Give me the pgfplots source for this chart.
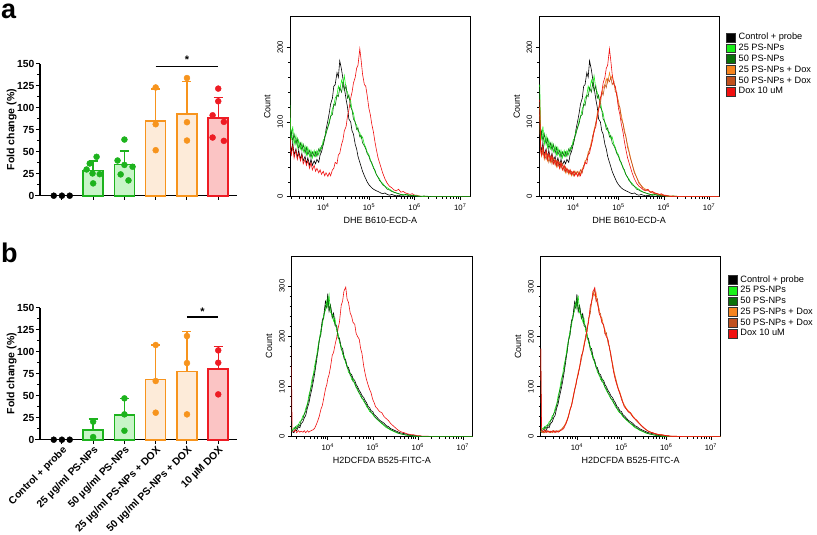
\documentclass[border=0pt]{standalone}
\usepackage{fontspec}
\setmainfont{Liberation Sans}
\usepackage{pgfplots}
\usepackage{pgfplotstable}
\pgfplotsset{compat=1.18}

% bar chart colours
\definecolor{grEdge}{HTML}{1DB31D}
\definecolor{grFill}{HTML}{C8F5C8}
\definecolor{orEdge}{HTML}{F7941D}
\definecolor{orFill}{HTML}{FDEBD9}
\definecolor{rdEdge}{HTML}{EE1C24}
\definecolor{rdFill}{HTML}{FBC4C4}
% histogram colours
\definecolor{hGreen}{HTML}{1AF01A}
\definecolor{hDkGreen}{HTML}{0A700A}
\definecolor{hOrange}{HTML}{F7841E}
\definecolor{hBrown}{HTML}{C0501E}
\definecolor{hRed}{HTML}{F01010}

% DHE histograms, x = log10 of intensity
\pgfplotstableread{
x    ctrl p25 p50 d25 d50 dox
3.26 75 150 95 120 110 130
3.28 70 88 80 60 64 62
3.30 60 78 88 54 62 56
3.33 72 94 74 64 56 68
3.36 56 70 84 50 58 52
3.40 64 82 70 60 50 62
3.43 52 66 78 48 56 50
3.46 62 76 64 56 46 58
3.50 50 64 72 46 54 48
3.53 58 72 62 54 44 56
3.56 48 60 70 44 52 44
3.60 54 68 58 50 42 50
3.63 44 56 66 40 48 42
3.66 52 66 56 48 40 48
3.70 42 54 62 38 46 38
3.73 50 62 52 46 38 46
3.76 42 52 60 36 44 36
3.80 48 62 54 42 34 42
3.83 44 54 60 32 40 34
3.86 50 62 54 38 32 38
3.90 46 56 64 30 36 32
3.93 56 66 60 36 30 36
3.96 60 64 68 28 34 30
4.00 70 76 70 34 28 34
4.03 78 78 80 28 34 28
4.06 90 88 84 34 30 32
4.10 102 92 94 28 34 27
4.13 112 102 98 34 28 32
4.16 124 106 108 30 36 28
4.20 132 118 110 38 32 36
4.23 148 122 124 40 42 38
4.26 150 132 122 48 44 46
4.30 166 136 136 50 52 44
4.33 160 148 134 60 56 56
4.36 182 142 146 62 64 58
4.40 170 156 140 74 68 70
4.43 158 150 152 80 82 76
4.46 146 162 142 90 86 88
4.50 130 144 148 98 100 94
4.53 120 140 132 112 106 108
4.56 104 132 136 118 118 116
4.60 100 128 120 132 124 132
4.63 88 116 116 136 140 140
4.66 84 112 104 146 136 152
4.70 70 98 100 150 150 160
4.73 64 96 90 158 146 172
4.76 54 88 92 152 158 176
4.80 46 86 80 166 154 198
4.83 40 78 82 158 160 182
4.86 34 80 72 162 150 164
4.90 28 70 68 150 154 150
4.93 24 66 64 146 140 148
4.96 20 60 58 136 140 136
5.00 16 56 54 128 122 118
5.03 14 50 48 118 120 110
5.06 12 44 46 110 104 98
5.10 10 40 38 98 98 86
5.13 9 34 36 90 86 74
5.16 8 30 30 80 82 64
5.20 7 26 26 70 66 52
5.23 6 24 22 62 60 46
5.26 5 20 20 54 52 40
5.30 4 18 16 44 44 32
5.35 5 14 14 34 32 24
5.40 3 12 10 26 26 18
5.45 2 10 9 20 18 14
5.50 3 8 7 15 15 12
5.55 2 6 6 12 10 9
5.60 1 5 5 10 9 8
5.65 2 4 4 8 9 10
5.70 1 3 3 7 6 6
5.75 1 3 2 6 5 7
5.80 0 2 3 5 4 5
5.85 1 3 2 4 4 4
5.90 0 2 1 3 3 3
5.95 1 1 2 3 2 4
6.00 0 2 1 2 2 2
6.05 0 1 1 1 1 2
6.10 0 1 0 1 1 1
6.20 0 0 1 1 0 0
6.40 0 0 0 0 0 0
7.22 0 0 0 0 0 0
}\tabA

% H2DCFDA histograms, x = log10 of intensity
\pgfplotstableread{
x    ctrl p25 p50 d25 d50 dox
3.19 8 10 12 10 176 176
3.21 10 14 12 10 12 12
3.25 8 18 14 8 10 10
3.28 14 16 20 12 8 14
3.31 12 22 16 9 12 8
3.35 20 24 24 12 9 12
3.38 18 30 22 8 11 9
3.41 26 32 32 11 8 11
3.45 30 42 36 8 12 9
3.48 38 44 46 12 9 12
3.51 42 56 50 9 12 8
3.55 58 66 64 12 9 12
3.58 66 82 74 9 12 9
3.61 80 92 90 13 10 11
3.65 96 114 104 14 15 13
3.68 110 124 122 18 16 14
3.71 126 142 130 20 21 17
3.75 150 158 158 28 25 25
3.78 170 178 168 34 32 32
3.81 190 192 192 42 40 40
3.85 212 212 204 56 54 55
3.88 232 222 230 64 62 62
3.91 240 242 236 78 74 76
3.95 270 252 262 94 92 95
3.98 262 270 256 108 104 104
4.00 285 260 280 116 114 115
4.03 250 282 252 130 126 124
4.06 262 248 262 140 138 138
4.10 240 244 236 160 154 162
4.13 246 230 242 170 168 168
4.16 226 236 222 186 180 182
4.20 220 210 218 200 204 198
4.23 200 206 196 218 210 216
4.26 196 188 194 232 236 228
4.30 178 180 174 256 246 262
4.33 176 164 170 266 272 270
4.36 160 162 156 290 280 290
4.40 152 146 150 282 296 298
4.43 140 142 138 288 270 274
4.46 138 128 134 264 276 268
4.50 126 126 122 256 248 246
4.53 124 114 120 240 246 240
4.56 116 116 110 238 230 228
4.60 112 104 108 220 222 224
4.63 104 100 98 214 206 206
4.66 100 92 96 204 208 200
4.70 92 88 86 190 186 194
4.73 88 80 84 178 180 176
4.76 82 78 76 164 160 166
4.80 78 70 74 146 144 140
4.83 72 68 66 132 128 126
4.86 68 60 64 120 118 114
4.90 60 56 56 106 104 102
4.93 58 50 54 96 94 94
4.96 52 50 48 90 86 88
5.00 50 44 46 78 78 74
5.03 44 40 42 70 68 68
5.06 42 38 38 64 62 60
5.10 38 34 35 58 56 56
5.15 33 30 31 52 50 50
5.20 30 26 27 48 46 48
5.25 27 22 24 42 40 40
5.30 22 18 20 36 35 36
5.35 20 16 17 32 30 32
5.40 16 13 14 27 26 26
5.45 14 11 12 22 21 22
5.50 12 9 10 18 17 18
5.55 10 7 8 14 14 14
5.60 8 6 6 11 11 11
5.65 7 5 5 9 9 9
5.70 6 4 4 8 7 8
5.75 5 3 3 6 6 6
5.80 4 2 3 5 5 5
5.85 3 2 2 4 4 4
5.90 2 1 1 4 3 4
5.95 2 1 1 3 3 3
6.00 1 1 0 2 2 2
6.05 1 0 1 2 1 2
6.10 0 0 0 1 1 1
6.20 0 0 0 1 0 1
6.40 0 0 0 0 0 0
7.21 0 0 0 0 0 0
}\tabB

\pgfplotsset{
  /pgf/number format/assume math mode=true,
  barax/.style={scale only axis, width=197pt, height=132pt,
    xmin=-0.7, xmax=5.6, ymin=0, ymax=150,
    axis lines*=left, axis line style={line width=1.1pt},
    ytick={0,25,...,150}, minor y tick num=1, xtick={0,...,5},
    tick align=outside, major tick length=4pt, minor tick length=2.5pt,
    tick style={black, line width=1pt},
    tick label style={font=\fontsize{10.3}{11}\selectfont\bfseries},
    yticklabel style={inner sep=1.5pt},
    ylabel={Fold change (\%)},
    ylabel style={font=\fontsize{10.5}{11}\selectfont\bfseries,
      at={(axis description cs:-0.144,0.5)}, anchor=center},
    clip=false},
  bar/.style 2 args={ybar, bar shift=0pt, bar width=20pt, line width=1.6pt,
    draw=#1, fill=#2,
    error bars/y dir=plus, error bars/y explicit,
    error bars/error bar style={line width=1.4pt, draw=#1},
    error bars/error mark options={rotate=90, mark size=4.5pt, line width=1.4pt, draw=#1}},
  dots/.style={only marks, mark=*, mark size=3pt, color=#1},
  histax/.style={scale only axis, ymin=0, tick pos=left, tick align=outside,
    xtick={4,5,6,7},
    xticklabels={10\textsuperscript{4},10\textsuperscript{5},10\textsuperscript{6},10\textsuperscript{7}},
    minor xtick={3.301,3.477,3.602,3.699,3.778,3.845,3.903,3.954,
      4.301,4.477,4.602,4.699,4.778,4.845,4.903,4.954,
      5.301,5.477,5.602,5.699,5.778,5.845,5.903,5.954,
      6.301,6.477,6.602,6.699,6.778,6.845,6.903,6.954},
    minor y tick num=4, yticklabel style={rotate=90},
    tick label style={font=\fontsize{7.8}{8}\selectfont},
    label style={font=\fontsize{9}{10}\selectfont},
    ylabel={Count},
    axis line style={line width=0.6pt},
    tick style={black, line width=0.5pt},
    major tick length=3.5pt, minor tick length=2pt,
    every axis plot/.append style={line width=0.6pt, forget plot}},
  sqleg/.style={
    legend image code/.code={\draw[##1, draw=black!80, line width=0.3pt] (0pt,-4.4pt) rectangle (9pt,4.4pt);},
    legend style={draw=none, fill=none, anchor=north west, inner sep=0pt,
      font=\fontsize{9.2}{10}\selectfont, row sep=1.7pt, column sep=2.5pt,
      nodes={inner sep=0.5pt}},
    legend cell align=left},
}

\begin{document}
\begin{tikzpicture}
\useasboundingbox (0,0) rectangle (817pt,-535pt);

\node[font=\fontsize{27}{27}\selectfont\bfseries, anchor=base west, inner sep=0pt] at (1pt,-19pt) {a};
\node[font=\fontsize{27}{27}\selectfont\bfseries, anchor=base west, inner sep=0pt] at (1pt,-262pt) {b};

% ---------- a: DHE fold change ----------
\begin{axis}[barax, at={(40pt,-195.7pt)}, anchor=south west, xticklabels={}]
\draw[line width=1.1pt] (axis cs:-0.86,0) -- (axis cs:-0.7,0);
\addplot[bar={grEdge}{grFill}] coordinates {(1,28.7) +- (0,10.6)};
\addplot[bar={grEdge}{grFill}] coordinates {(2,35.5) +- (0,15.5)};
\addplot[bar={orEdge}{orFill}] coordinates {(3,84.6) +- (0,36.8)};
\addplot[bar={orEdge}{orFill}] coordinates {(4,92.6) +- (0,37.0)};
\addplot[bar={rdEdge}{rdFill}] coordinates {(5,88.4) +- (0,23.4)};
\addplot[dots=black] coordinates {(-0.26,0) (0,0) (0.25,0)};
\addplot[dots=grEdge] coordinates {(1.11,44.2) (0.89,36.6) (0.79,29.8) (0.98,25.3) (1.21,24.5) (1.0,14)};
\addplot[dots=grEdge] coordinates {(2,63.8) (1.78,40) (2,35) (2.26,32.9) (1.88,24.2) (2.13,17.4)};
\addplot[dots=orEdge] coordinates {(3,123) (3,81.2) (3,51.7)};
\addplot[dots=orEdge] coordinates {(4,133.7) (4,83.5) (4,62.7)};
\addplot[dots=rdEdge] coordinates {(5,121.7) (5,107.3) (4.82,91.4) (5.18,83.9) (4.82,66.1) (5.18,62.3)};
\draw[line width=1.1pt] (axis cs:3,147.3) -- (axis cs:5,147.3);
\node[font=\fontsize{11}{11}\selectfont\bfseries, anchor=base] at (axis cs:4,150) {*};
\end{axis}

% ---------- b: H2DCFDA fold change ----------
\begin{axis}[barax, at={(40pt,-439.7pt)}, anchor=south west,
  xticklabels={Control + probe, 25 µg/ml PS-NPs, 50 µg/ml PS-NPs,
    25 µg/ml PS-NPs + DOX, 50 µg/ml PS-NPs + DOX, 10 µM DOX},
  xticklabel style={rotate=45, anchor=north east, inner sep=1pt}]
\draw[line width=1.1pt] (axis cs:-0.86,0) -- (axis cs:-0.7,0);
\addplot[bar={grEdge}{grFill}] coordinates {(1,11) +- (0,12.5)};
\addplot[bar={grEdge}{grFill}] coordinates {(2,28.4) +- (0,18.6)};
\addplot[bar={orEdge}{orFill}] coordinates {(3,68.6) +- (0,39.0)};
\addplot[bar={orEdge}{orFill}] coordinates {(4,77.7) +- (0,45.0)};
\addplot[bar={rdEdge}{rdFill}] coordinates {(5,80.3) +- (0,25.4)};
\addplot[dots=black] coordinates {(-0.26,0) (0,0) (0.25,0)};
\addplot[dots=grEdge] coordinates {(1,20.5) (1,3)};
\addplot[dots=grEdge] coordinates {(2,47) (2,28.8) (2,10.2)};
\addplot[dots=orEdge] coordinates {(3,107.6) (3,66.7) (3,30.7)};
\addplot[dots=orEdge] coordinates {(4,117.8) (4,87.1) (4,28.8)};
\addplot[dots=rdEdge] coordinates {(5,101.5) (5,87.5) (5,51.5)};
\draw[line width=1.1pt] (axis cs:4,139.4) -- (axis cs:5,139.4);
\node[font=\fontsize{11}{11}\selectfont\bfseries, anchor=base] at (axis cs:4.5,141.5) {*};
\end{axis}

% ---------- a: DHE histograms ----------
\begin{axis}[histax, at={(290pt,-196.7pt)}, anchor=south west,
  width=180.7pt, height=180pt, xmin=3.27, xmax=7.23, ymax=241,
  ytick={0,100,200}, xlabel={DHE B610-ECD-A}]
\addplot[black] table[x=x, y=ctrl] {\tabA};
\addplot[hRed] table[x=x, y=dox] {\tabA};
\addplot[hGreen] table[x=x, y=p25] {\tabA};
\addplot[hDkGreen] table[x=x, y=p50] {\tabA};
\end{axis}

\begin{axis}[histax, sqleg, at={(539.3pt,-196.7pt)}, anchor=south west,
  width=179.7pt, height=180pt, xmin=3.25, xmax=7.22, ymax=241,
  ytick={0,100,200}, xlabel={DHE B610-ECD-A},
  legend style={at={(1.04,0.912)}}]
\addplot[black] table[x=x, y=ctrl] {\tabA};
\addplot[hGreen] table[x=x, y=p25] {\tabA};
\addplot[hDkGreen] table[x=x, y=p50] {\tabA};
\addplot[hOrange] table[x=x, y=d25] {\tabA};
\addplot[hBrown] table[x=x, y=d50] {\tabA};
\addplot[hRed] table[x=x, y=dox] {\tabA};
\addlegendimage{fill=black}
\addlegendimage{fill=hGreen}
\addlegendimage{fill=hDkGreen}
\addlegendimage{fill=hOrange}
\addlegendimage{fill=hBrown}
\addlegendimage{fill=hRed}
\legend{Control + probe, 25 PS-NPs, 50 PS-NPs, 25 PS-NPs + Dox, 50 PS-NPs + Dox, Dox 10 uM}
\end{axis}

% ---------- b: H2DCFDA histograms ----------
\begin{axis}[histax, at={(291.7pt,-436.7pt)}, anchor=south west,
  width=180.6pt, height=180.7pt, xmin=3.2, xmax=7.21, ymax=360,
  ytick={0,100,200,300}, xlabel={H2DCFDA B525-FITC-A}]
\addplot[black] table[x=x, y=ctrl] {\tabB};
\addplot[hRed] table[x=x, y=dox] {\tabB};
\addplot[hGreen] table[x=x, y=p25] {\tabB};
\addplot[hDkGreen] table[x=x, y=p50] {\tabB};
\end{axis}

\begin{axis}[histax, sqleg, at={(540.7pt,-436.7pt)}, anchor=south west,
  width=180pt, height=180pt, xmin=3.19, xmax=7.22, ymax=360,
  ytick={0,100,200,300}, xlabel={H2DCFDA B525-FITC-A},
  legend style={at={(1.04,0.9)}}]
\addplot[black] table[x=x, y=ctrl] {\tabB};
\addplot[hGreen] table[x=x, y=p25] {\tabB};
\addplot[hDkGreen] table[x=x, y=p50] {\tabB};
\addplot[hOrange] table[x=x, y=d25] {\tabB};
\addplot[hBrown] table[x=x, y=d50] {\tabB};
\addplot[hRed] table[x=x, y=dox] {\tabB};
\addlegendimage{fill=black}
\addlegendimage{fill=hGreen}
\addlegendimage{fill=hDkGreen}
\addlegendimage{fill=hOrange}
\addlegendimage{fill=hBrown}
\addlegendimage{fill=hRed}
\legend{Control + probe, 25 PS-NPs, 50 PS-NPs, 25 PS-NPs + Dox, 50 PS-NPs + Dox, Dox 10 uM}
\end{axis}
\end{tikzpicture}
\end{document}
